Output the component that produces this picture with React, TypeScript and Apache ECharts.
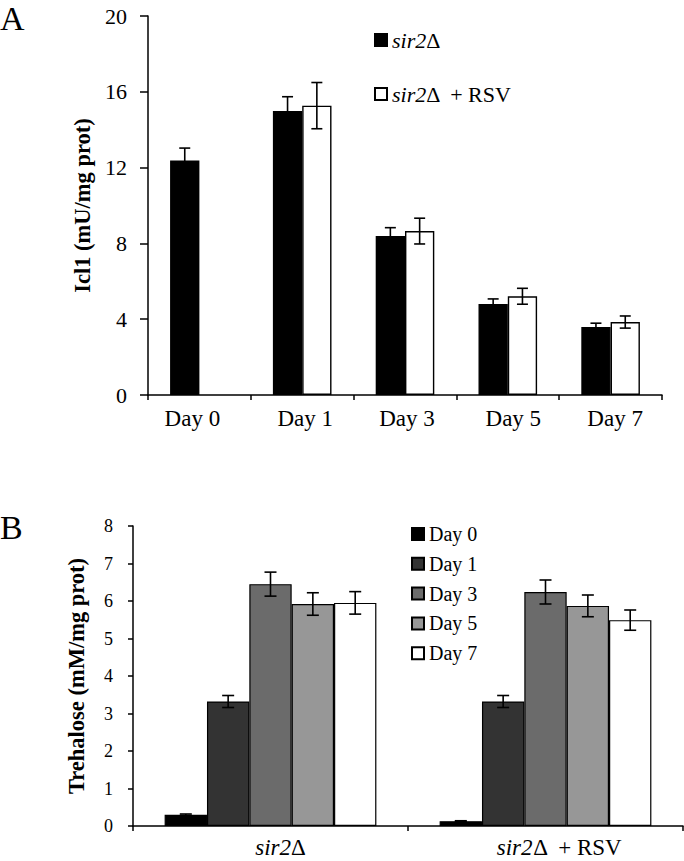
import React, { useEffect, useRef } from "react";
import * as echarts from "echarts";

// ---- Panel A data ----
const daysA = ["Day 0", "Day 1", "Day 3", "Day 5", "Day 7"];
const sir2Values = [12.38, 14.99, 8.39, 4.8, 3.59];
const sir2Errors = [0.65, 0.75, 0.44, 0.27, 0.2];
const sir2RsvValues: (number | null)[] = [null, 15.27, 8.65, 5.21, 3.85];
const sir2RsvErrors: (number | null)[] = [null, 1.22, 0.68, 0.42, 0.32];
const ticksA = { min: 0, max: 20, interval: 4 };

// ---- Panel B data ----
const groupsB = ["sir2Δ", "sir2Δ + RSV"];
const dayNamesB = ["Day 0", "Day 1", "Day 3", "Day 5", "Day 7"];
const day0B = [0.3, 0.13];
const day1B = [3.32, 3.32];
const day3B = [6.45, 6.24];
const day5B = [5.92, 5.87];
const day7B = [5.95, 5.49];
const day0ErrB = [0.02, 0.01];
const day1ErrB = [0.16, 0.16];
const day3ErrB = [0.32, 0.32];
const day5ErrB = [0.3, 0.29];
const day7ErrB = [0.3, 0.27];
const ticksB = { min: 0, max: 8, interval: 1 };

const FONT = "Liberation Serif";

function errorSeries(
  values: (number | null)[],
  errors: (number | null)[],
  idx: number,
  n: number,
  gap: number,
  axisIndex: number,
  cap: number
) {
  const data = values
    .map((v, i) => (v == null || errors[i] == null ? null : [i, v, errors[i]]))
    .filter((d) => d !== null);
  return {
    type: "custom",
    xAxisIndex: axisIndex,
    yAxisIndex: axisIndex,
    z: 10,
    silent: true,
    data,
    encode: { x: 0, y: 1 },
    renderItem: (params: any, api: any) => {
      const ci = api.value(0);
      const v = api.value(1);
      const e = api.value(2);
      const c = api.coord([ci, v]);
      const catW = api.size([1, 0])[0];
      const bw = (catW * (1 - gap)) / n;
      const x = c[0] + (idx - (n - 1) / 2) * bw;
      const yt = api.coord([ci, v + e])[1];
      const yb = api.coord([ci, v - e])[1];
      const st = { stroke: "#000", lineWidth: 1.6 };
      return {
        type: "group",
        children: [
          { type: "line", shape: { x1: x, y1: yt, x2: x, y2: yb }, style: st },
          { type: "line", shape: { x1: x - cap / 2, y1: yt, x2: x + cap / 2, y2: yt }, style: st },
          { type: "line", shape: { x1: x - cap / 2, y1: yb, x2: x + cap / 2, y2: yb }, style: st },
        ],
      };
    },
  };
}

export default function App() {
  const ref = useRef<HTMLDivElement>(null);
  useEffect(() => {
    if (!ref.current) return;
    const chart = echarts.init(ref.current, null, { renderer: "svg" });
    const gapA = 0.43;
    const gapB = 0.23;
    const barBorder = { borderColor: "#000", borderWidth: 1.4 };
    const bColors = ["#000000", "#333333", "#6b6b6b", "#979797", "#ffffff"];
    const bValues = [day0B, day1B, day3B, day5B, day7B];
    const bErrors = [day0ErrB, day1ErrB, day3ErrB, day5ErrB, day7ErrB];
    const axisLine = { show: true, lineStyle: { color: "#000", width: 1.5 } };
    const lbl = { fontSize: 23, fontFamily: FONT, color: "#000" };

    const option: any = {
      animation: false,
      backgroundColor: "#fff",
      textStyle: { fontFamily: FONT, color: "#000" },
      graphic: [
        { type: "text", left: 0, top: 1, style: { text: "A", fontSize: 34, fontFamily: FONT, fill: "#000" } },
        { type: "text", left: 0, top: 510, style: { text: "B", fontSize: 34, fontFamily: FONT, fill: "#000" } },
      ],
      legend: [
        {
          data: ["sir2Δ", "sir2Δ + RSV"],
          orient: "vertical",
          left: 374,
          top: 29,
          padding: 0,
          itemGap: 32,
          itemWidth: 12,
          itemHeight: 12,
          icon: "rect",
          textStyle: {
            fontSize: 22,
            fontFamily: FONT,
            color: "#000",
            rich: {
              i: { fontStyle: "italic", fontSize: 22, fontFamily: FONT, color: "#000" },
              n: { fontSize: 22, fontFamily: FONT, color: "#000" },
            },
          },
          formatter: (name: string) =>
            name === "sir2Δ" ? "{i|sir2}{n|Δ}" : "{i|sir2}{n|Δ  + RSV}",
        },
        {
          data: dayNamesB,
          orient: "vertical",
          left: 411,
          top: 524,
          padding: 0,
          itemGap: 9.8,
          itemWidth: 12,
          itemHeight: 12,
          icon: "rect",
          textStyle: { fontSize: 20, fontFamily: FONT, color: "#000" },
        },
      ],
      grid: [
        { left: 148, right: 22, top: 16, height: 379 },
        { left: 133, right: 1, top: 526, height: 300 },
      ],
      xAxis: [
        {
          type: "category",
          gridIndex: 0,
          data: daysA,
          axisLine,
          axisTick: { show: true, length: 5, lineStyle: { color: "#000", width: 1.5 } },
          axisLabel: {
            ...lbl,
            margin: 12,
            interval: 0,
            hideOverlap: false,
            formatter: (v: string, i: number) => "{d" + i + "|" + v + "}",
            rich: {
              d0: { ...lbl, padding: [0, 14, 0, 0] },
              d1: { ...lbl, padding: [0, 0, 0, 6] },
              d2: { ...lbl, padding: [0, 0, 0, 4] },
              d3: { ...lbl, padding: [0, 0, 0, 11] },
              d4: { ...lbl, padding: [0, 0, 0, 9] },
            },
          },
        },
        {
          type: "category",
          gridIndex: 1,
          data: groupsB,
          axisLine,
          axisTick: { show: true, length: 5, lineStyle: { color: "#000", width: 1.5 } },
          axisLabel: {
            ...lbl,
            margin: 10,
            interval: 0,
            hideOverlap: false,
            formatter: (v: string) => (v === "sir2Δ" ? "{a|sir2}{n|Δ}" : "{b|sir2}{n|Δ  + RSV}"),
            rich: {
              a: { ...lbl, fontStyle: "italic", padding: [0, 0, 0, 20] },
              b: { ...lbl, fontStyle: "italic", padding: [0, 0, 0, 28] },
              n: { ...lbl },
            },
          },
        },
      ],
      yAxis: [
        {
          type: "value",
          gridIndex: 0,
          min: ticksA.min,
          max: ticksA.max,
          interval: ticksA.interval,
          name: "Icl1 (mU/mg prot)",
          nameLocation: "middle",
          nameGap: 50,
          nameTextStyle: { fontSize: 22.5, fontWeight: "bold", fontFamily: FONT, color: "#000" },
          axisLine,
          axisTick: { show: true, length: 8, lineStyle: { color: "#000", width: 1.5 } },
          axisLabel: { fontSize: 22, fontFamily: FONT, color: "#000", margin: 21 },
          splitLine: { show: false },
        },
        {
          type: "value",
          gridIndex: 1,
          min: ticksB.min,
          max: ticksB.max,
          interval: ticksB.interval,
          name: "Trehalose (mM/mg prot)",
          nameLocation: "middle",
          nameGap: 45,
          nameTextStyle: { fontSize: 22.5, fontWeight: "bold", fontFamily: FONT, color: "#000" },
          axisLine,
          axisTick: { show: true, length: 5, lineStyle: { color: "#000", width: 1.5 } },
          axisLabel: { fontSize: 18, fontFamily: FONT, color: "#000", margin: 20 },
          splitLine: { show: false },
        },
      ],
      series: [
        {
          name: "sir2Δ",
          type: "bar",
          xAxisIndex: 0,
          yAxisIndex: 0,
          data: sir2Values,
          barGap: "0%",
          barCategoryGap: gapA * 100 + "%",
          itemStyle: { color: "#000", ...barBorder },
        },
        {
          name: "sir2Δ + RSV",
          type: "bar",
          xAxisIndex: 0,
          yAxisIndex: 0,
          data: sir2RsvValues,
          barGap: "0%",
          barCategoryGap: gapA * 100 + "%",
          itemStyle: { color: "#fff", ...barBorder },
        },
        errorSeries(sir2Values, sir2Errors, 0, 2, gapA, 0, 11),
        errorSeries(sir2RsvValues, sir2RsvErrors, 1, 2, gapA, 0, 11),
        ...dayNamesB.map((d, i) => ({
          name: d,
          type: "bar",
          xAxisIndex: 1,
          yAxisIndex: 1,
          data: bValues[i],
          barGap: "0%",
          barCategoryGap: gapB * 100 + "%",
          itemStyle: { color: bColors[i], borderColor: "#000", borderWidth: 1.2 },
        })),
        ...dayNamesB.map((d, i) => errorSeries(bValues[i], bErrors[i], i, 5, gapB, 1, 12)),
      ],
    };
    chart.setOption(option);
    return () => chart.dispose();
  }, []);
  return (
    <div
      ref={ref}
      style={{ position: "fixed", left: 0, top: 0, width: 684, height: 861, background: "#fff" }}
    />
  );
}
